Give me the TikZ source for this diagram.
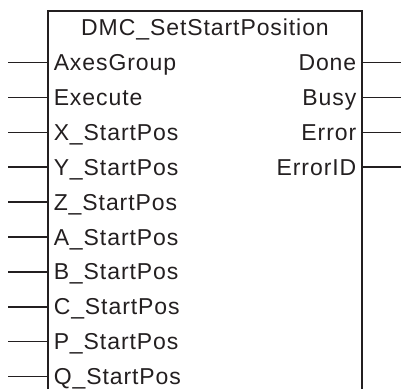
\documentclass[tikz,border=0pt]{standalone}
\usepackage{fontspec}
\setmainfont{Liberation Sans}[LetterSpace=4]
\definecolor{ink}{HTML}{231F20}

\begin{document}
\begin{tikzpicture}[x=1pt,y=-1pt,line width=1.5pt,draw=ink,text=ink,
  font=\fontsize{23}{27}\selectfont,
  pinlabel/.style={inner xsep=5pt,inner ysep=0pt,text height=16pt,text depth=0pt}]
  \useasboundingbox (0,0) rectangle (401,389);
  % function block, open at the bottom
  \draw (48,389) -- (48,11) -- (362,11) -- (362,389);
  \node[inner sep=0pt] (title) at (205,29) {DMC\_SetStartPosition};
  % inputs
  \foreach \name [count=\i from 0] in {AxesGroup,Execute,X\_StartPos,Y\_StartPos,
      Z\_StartPos,A\_StartPos,B\_StartPos,C\_StartPos,P\_StartPos,Q\_StartPos}{
    \node[pinlabel,anchor=west] (in\i) at (48,62.5+34.9*\i) {\name};
    \coordinate (inx\i) at (8,62.5+34.9*\i);
    \draw (inx\i) -- (in\i.west);
  }
  % outputs
  \foreach \name [count=\i from 0] in {Done,Busy,Error,ErrorID}{
    \node[pinlabel,anchor=east] (out\i) at (362,62.5+34.9*\i) {\name};
    \coordinate (outx\i) at (401,62.5+34.9*\i);
    \draw (out\i.east) -- (outx\i);
  }
\end{tikzpicture}
\end{document}
